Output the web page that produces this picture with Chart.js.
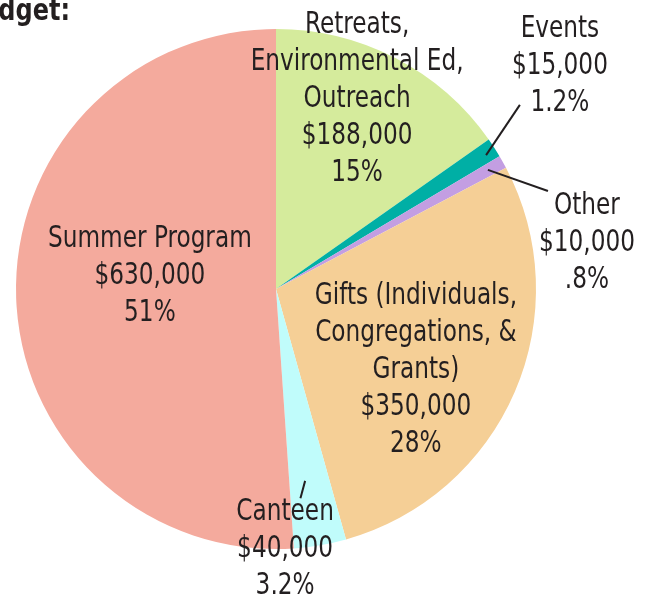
<!DOCTYPE html>
<html>
<head>
<meta charset="utf-8">
<script src="https://cdn.jsdelivr.net/npm/chart.js@4.4.1/dist/chart.umd.min.js"></script>
<style>
  html, body { margin: 0; padding: 0; background: #ffffff; }
  #wrap { width: 649px; height: 603px; }
</style>
</head>
<body>
<div id="wrap"><canvas id="c" width="649" height="603"></canvas></div>
<script>
// ---- data ----
const categories = [
  "Retreats, Environmental Ed, Outreach",
  "Events",
  "Other",
  "Gifts (Individuals, Congregations, & Grants)",
  "Canteen",
  "Summer Program"
];
const amounts = [188000, 15000, 10000, 350000, 40000, 630000];
const percentLabels = ["15%", "1.2%", ".8%", "28%", "3.2%", "51%"];
const amountLabels = ["$188,000", "$15,000", "$10,000", "$350,000", "$40,000", "$630,000"];
const nameLines = [
  ["Retreats,", "Environmental Ed,", "Outreach"],
  ["Events"],
  ["Other"],
  ["Gifts (Individuals,", "Congregations, &", "Grants)"],
  ["Canteen"],
  ["Summer Program"]
];
const colors = ["#D5EB9C", "#00AFA5", "#C39EE2", "#F5CF96", "#C0FCFB", "#F4AA9D"];
const titleText = "Budget:";

// ---- label layout (relative to pie center, in units of radius) ----
const labelAnchors = [
  [0.312, -0.731], [1.092, -0.858], [1.196, -0.177],
  [0.538, 0.312], [0.035, 1.0], [-0.485, -0.05]
];
const leaders = [
  null,
  [[0.938, -0.708], [0.808, -0.515]],
  [[0.815, -0.458], [1.046, -0.377]],
  null,
  [[0.112, 0.738], [0.094, 0.805]],
  null
];

const FONT = '"DejaVu Sans Condensed", "DejaVu Sans", sans-serif';
const SX = 0.86; // horizontal condensing of label text

function condensedText(ctx, t, x, y) {
  ctx.save();
  ctx.translate(x, y);
  ctx.scale(SX, 1);
  ctx.fillText(t, 0, 0);
  ctx.restore();
}

const labelPlugin = {
  id: 'pieLabels',
  afterDatasetsDraw(chart) {
    const ctx = chart.ctx;
    const arc = chart.getDatasetMeta(0).data[0];
    const cx = arc.x, cy = arc.y, r = arc.outerRadius;
    ctx.save();
    ctx.fillStyle = '#231f20';
    ctx.strokeStyle = '#231f20';
    ctx.lineWidth = 2;
    ctx.textAlign = 'center';
    ctx.textBaseline = 'middle';
    ctx.font = '30px ' + FONT;
    const lh = 37;
    categories.forEach((c, i) => {
      const lines = nameLines[i].concat([amountLabels[i], percentLabels[i]]);
      const ax = cx + labelAnchors[i][0] * r;
      const ay = cy + labelAnchors[i][1] * r;
      const y0 = ay - (lines.length - 1) * lh / 2;
      lines.forEach((t, k) => condensedText(ctx, t, ax, y0 + k * lh));
      if (leaders[i]) {
        const [p, q] = leaders[i];
        ctx.beginPath();
        ctx.moveTo(cx + p[0] * r, cy + p[1] * r);
        ctx.lineTo(cx + q[0] * r, cy + q[1] * r);
        ctx.stroke();
      }
    });
    // cut-off title at top-left
    ctx.font = 'bold 31px ' + FONT;
    ctx.textAlign = 'right';
    ctx.textBaseline = 'alphabetic';
    condensedText(ctx, titleText, 70, 20);
    ctx.restore();
  }
};

new Chart(document.getElementById('c'), {
  type: 'pie',
  data: {
    labels: categories,
    datasets: [{
      data: amounts,
      backgroundColor: colors,
      borderWidth: 0
    }]
  },
  options: {
    responsive: false,
    animation: false,
    layout: { padding: { left: 16, right: 113, top: 29, bottom: 54 } },
    plugins: { legend: { display: false }, tooltip: { enabled: false }, title: { display: false } }
  },
  plugins: [labelPlugin]
});
</script>
</body>
</html>
